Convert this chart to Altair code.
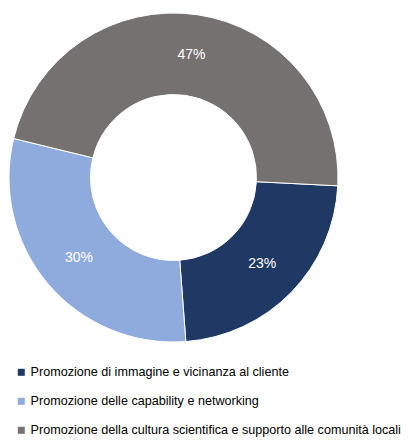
import altair as alt
import pandas as pd
import math

categories = [
    "Promozione di immagine e vicinanza al cliente",
    "Promozione delle capability e networking",
    "Promozione della cultura scientifica e supporto alle comunità locali",
]
values = [23, 30, 47]
labels = ["23%", "30%", "47%"]
colors = ["#203864", "#8FAADC", "#767171"]

df = pd.DataFrame({"cat": categories, "val": values, "lab": labels, "order": [0, 1, 2]})

start = math.radians(92.9)
theta_scale = alt.Scale(range=[start, start + 2 * math.pi])
cx, cy = 173.5 - 8, 177.5 - 8

base = alt.Chart(df).encode(
    theta=alt.Theta("val:Q", stack=True, scale=theta_scale),
    order=alt.Order("order:Q"),
    x=alt.value(cx),
    y=alt.value(cy),
)

arcs = base.mark_arc(radius=164.5, radius2=83, stroke="white", strokeWidth=1).encode(
    color=alt.Color(
        "cat:N",
        scale=alt.Scale(domain=categories, range=colors),
        legend=alt.Legend(
            title=None,
            orient="none",
            legendX=7,
            legendY=358,
            padding=0,
            symbolType="square",
            symbolSize=49,
            symbolStrokeWidth=0,
            labelFontSize=12.6,
            labelFont="Liberation Sans",
            labelColor="#000000",
            labelLimit=500,
            labelOffset=3,
            rowPadding=16,
        ),
    )
)

text = base.mark_text(radius=124, font="Liberation Sans", fontSize=14, color="white").encode(
    text="lab:N"
)

chart = (arcs + text).properties(
    width=400, height=433, padding=0, autosize=alt.AutoSizeParams(type="none")
).configure_view(stroke=None)

chart.save("out.html", embed_options={"renderer": "svg", "actions": False})
